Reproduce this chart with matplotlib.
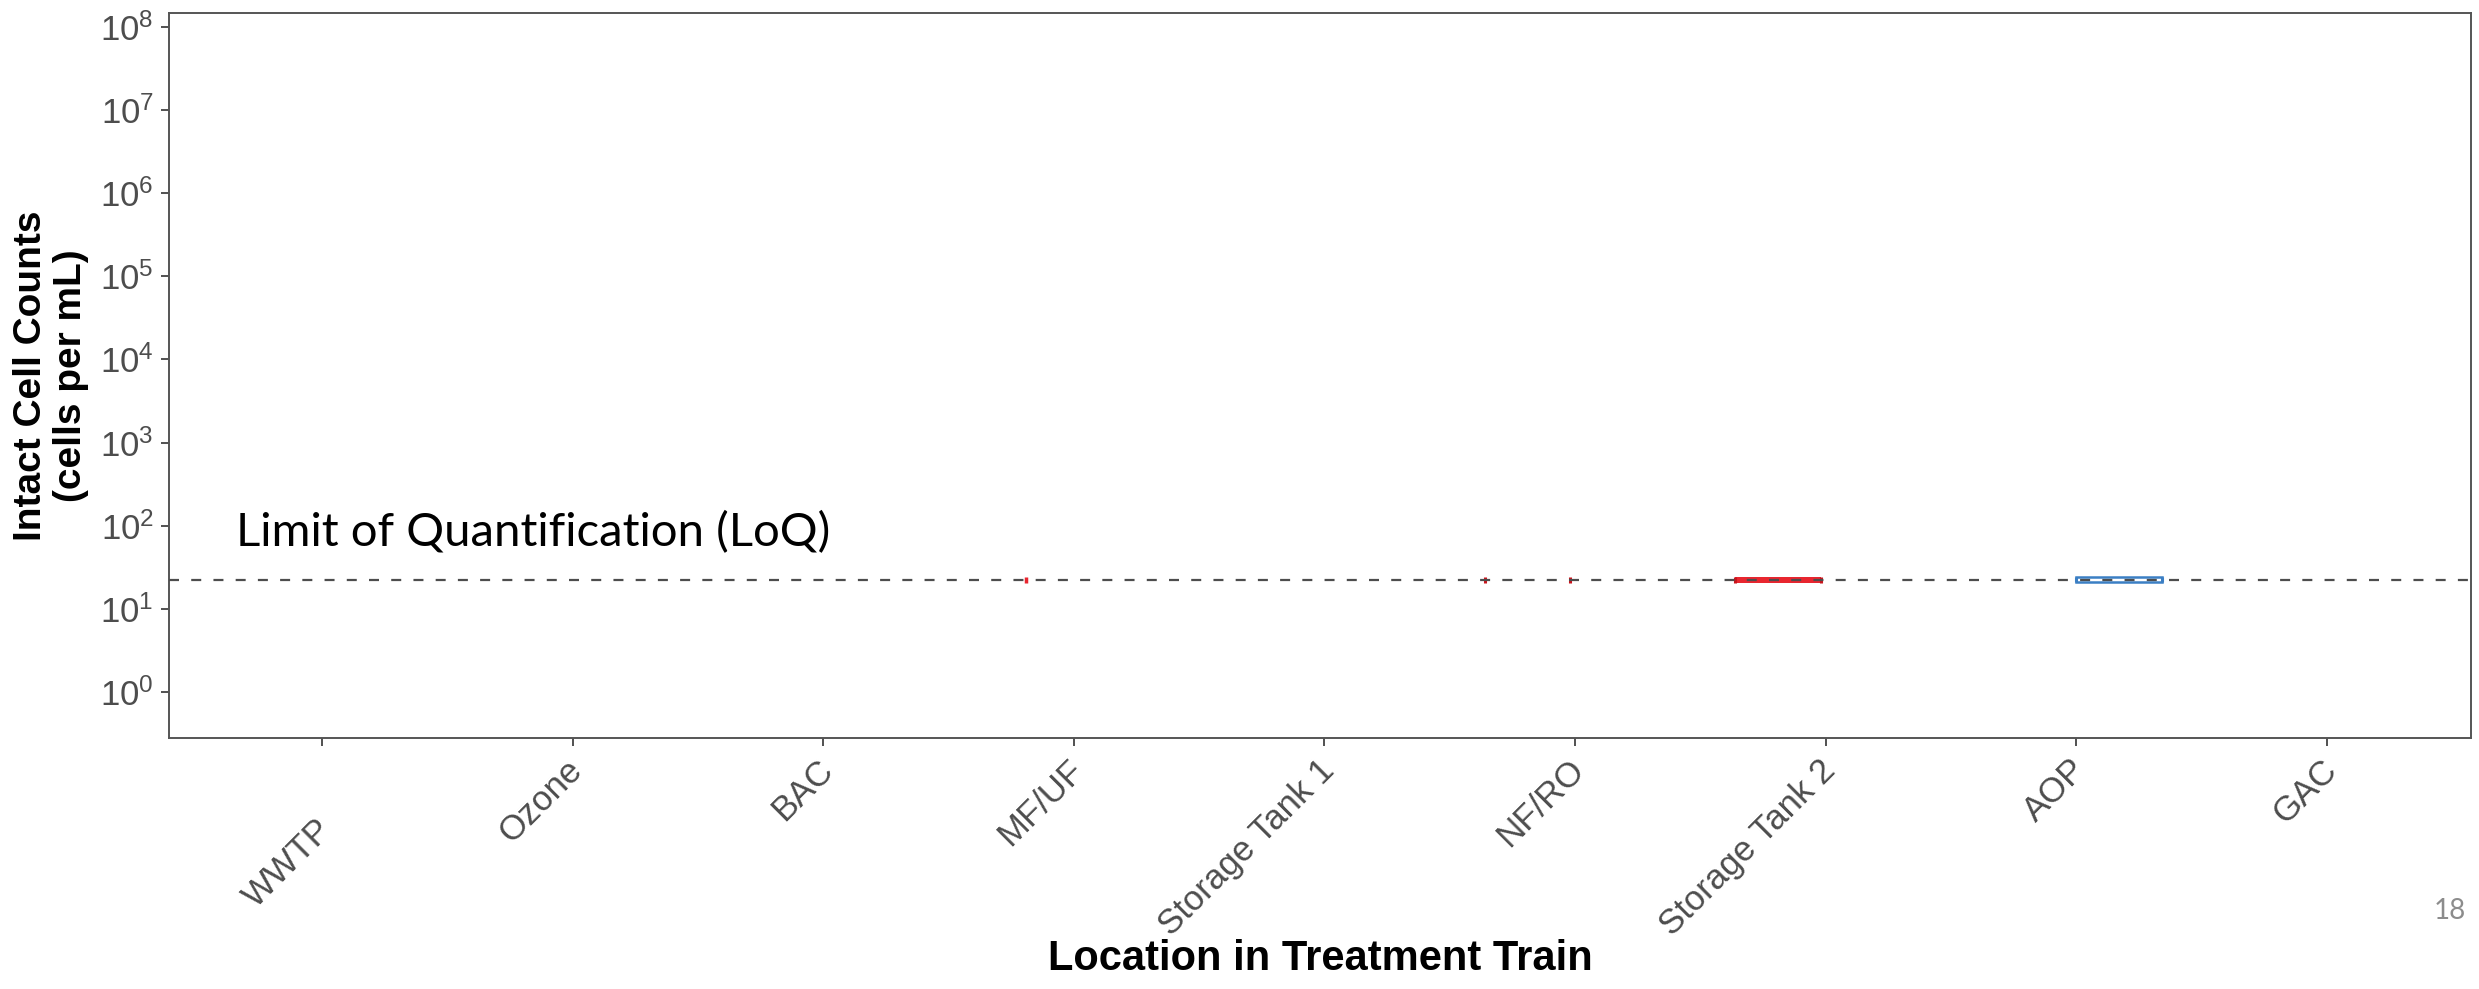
import matplotlib
matplotlib.use('Agg')

import matplotlib.pyplot as plt
import matplotlib.transforms as mtransforms
import numpy as np
from matplotlib.ticker import FixedLocator, FuncFormatter, NullLocator


LOCATIONS = ['WWTP', 'Ozone', 'BAC', 'MF/UF', 'Storage Tank 1',
             'NF/RO', 'Storage Tank 2', 'AOP', 'GAC']
LOQ = 22.5
Y_TICKS = [1e0, 1e1, 1e2, 1e3, 1e4, 1e5, 1e6, 1e7, 1e8]

# groups that sit on the LoQ (everything else is below it)
# q1/q3 = body of the box (nan -> whisker only), lo/hi = extent of the marks
RED_LOCS = ['MF/UF', 'NF/RO', 'Storage Tank 2']
RED_Q1 = [np.nan, 22.5, 20.6]
RED_Q3 = [np.nan, 22.5, 24.4]
RED_LO = [20.8, 20.8, 20.4]
RED_HI = [24.0, 24.2, 24.6]

BLUE_LOCS = ['AOP']
BLUE_Q1 = [21.0]
BLUE_Q3 = [24.4]
BLUE_LO = [21.0]
BLUE_HI = [24.4]

RED = '#e8262f'
DARK_RED = '#c8141c'
BLUE = '#3b7fc4'
GREY = '#4d4d4d'
BOX_W = 0.34


def _draw_boxes(ax, locs, q1, q3, lo, hi, offset, color, edge, filled):

    for loc, a, b, c, d in zip(locs, q1, q3, lo, hi):

        x = LOCATIONS.index(loc) + offset

        if np.isnan(a):
            ax.vlines(x, c, d, color = color, linewidth = 2.5, zorder = 3)
            continue

        if b > a:
            ax.bar(x, b - a, bottom = a, width = BOX_W,
                   facecolor = color if filled else 'none',
                   edgecolor = 'none' if filled else color,
                   linewidth = 1.8, zorder = 2)

        ax.vlines([x - BOX_W / 2, x + BOX_W / 2], c, d, color = edge, linewidth = 2.2, zorder = 3)


def main():

    plt.rcParams['font.family'] = ['Liberation Sans', 'DejaVu Sans']
    plt.rcParams['mathtext.default'] = 'regular'

    fig = plt.figure(figsize = (24.79, 9.89), dpi = 100)
    ax = fig.add_axes([0.0682, 0.2538, 0.9286, 0.7335])

    _draw_boxes(ax, RED_LOCS, RED_Q1, RED_Q3, RED_LO, RED_HI, -0.19, RED, DARK_RED, True)
    _draw_boxes(ax, BLUE_LOCS, BLUE_Q1, BLUE_Q3, BLUE_LO, BLUE_HI, 0.17, BLUE, BLUE, False)

    ax.axhline(LOQ, color = GREY, linewidth = 1.6, linestyle = (0, (4.5, 5.5)), zorder = 5)

    ax.set_yscale('log')
    ax.set_ylim(10 ** -0.55, 10 ** 8.17)
    ax.set_xlim(-0.61, len(LOCATIONS) - 1 + 0.575)

    ax.yaxis.set_major_locator(FixedLocator(Y_TICKS))
    ax.yaxis.set_minor_locator(NullLocator())
    ax.yaxis.set_major_formatter(FuncFormatter(lambda v, _: f'$10^{{{int(round(np.log10(v)))}}}$'))

    ax.set_xticks(range(len(LOCATIONS)))
    ax.set_xticklabels(LOCATIONS, rotation = 45, ha = 'right', va = 'top')

    ax.tick_params(axis = 'both', which = 'major', length = 6, width = 1.2,
                   color = '#333333', labelsize = 25, labelcolor = GREY)
    ax.tick_params(axis = 'x', pad = 5)
    ax.tick_params(axis = 'y', pad = 5)

    for i, lab in enumerate(ax.get_xticklabels()):
        dy = -0.6 if i == 0 else 0.0
        lab.set_transform(lab.get_transform() + mtransforms.ScaledTranslation(0.16, dy, fig.dpi_scale_trans))

    for side in ('top', 'right', 'bottom', 'left'):
        ax.spines[side].set_color('#555555')
        ax.spines[side].set_linewidth(1.4)

    ax.set_ylabel('Intact Cell Counts\n(cells per mL)', fontsize = 28,
                  fontweight = 'bold', color = 'black', labelpad = 8, linespacing = 1.15)
    ax.set_xlabel('Location in Treatment Train', fontsize = 30,
                  fontweight = 'bold', color = 'black', va = 'center')
    ax.xaxis.set_label_coords(0.5, -0.305)

    fig.text(236 / 2479, 1 - 533 / 989, 'Limit of Quantification (LoQ)',
             fontsize = 34, family = ['Lato', 'DejaVu Sans'], color = 'black', va = 'center')
    fig.text(2466 / 2479, 1 - 911 / 989, '18', fontsize = 20,
             family = ['Lato', 'DejaVu Sans'], color = '#8c8c8c', ha = 'right', va = 'center')

    fig.savefig('out.png', dpi = 100)


if __name__ == '__main__':
    main()
